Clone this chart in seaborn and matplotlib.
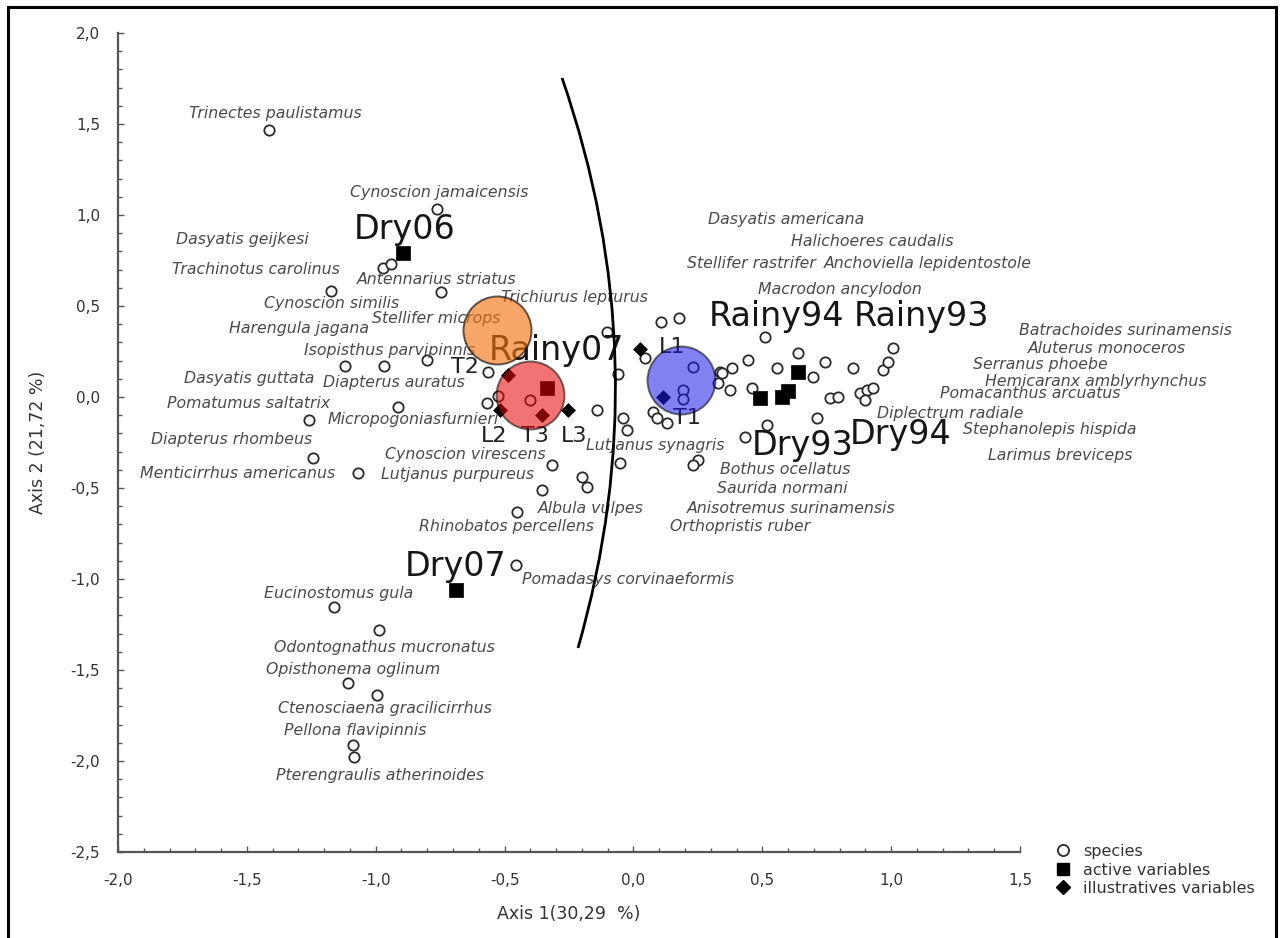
import numpy as np
import pandas as pd
import matplotlib
matplotlib.use("Agg")
import matplotlib.pyplot as plt
from matplotlib.lines import Line2D
from matplotlib.patches import Rectangle, PathPatch
from matplotlib.path import Path
from matplotlib.ticker import MultipleLocator, FuncFormatter
import seaborn as sns

# ---- species scores (CA axis 1 / axis 2) ----
species_x = [-1.414, -0.762, -0.972, -0.941, -0.747, -1.173, -1.119, -0.968, -0.801, -0.564,
             -0.568, -0.913, -1.259, -1.243, -1.069, -0.401, -0.102, 0.107, 0.177, -0.060,
             -0.141, -0.040, -0.025, 0.076, 0.130, 0.092, -0.052, -0.316, -0.199, -0.180,
             -0.355, -0.452, 0.231, 0.192, 0.192, 0.336, 0.383, 0.328, 0.375, 0.445,
             0.557, 0.638, 0.743, 0.697, 0.510, 0.852, 0.968, 0.988, 1.007, 0.343,
             0.460, 0.763, 0.794, 0.879, 0.906, 0.929, 0.898, 0.712, 0.518, 0.433,
             0.251, 0.231, -0.456, -1.162, -0.987, -1.107, -0.995, -1.088, -1.085, -0.525,
             0.045]
species_y = [1.467, 1.033, 0.709, 0.731, 0.577, 0.582, 0.170, 0.170, 0.203, 0.137,
             -0.033, -0.055, -0.126, -0.335, -0.418, -0.016, 0.357, 0.412, 0.434, 0.126,
             -0.071, -0.115, -0.181, -0.082, -0.143, -0.115, -0.363, -0.374, -0.440, -0.495,
             -0.511, -0.632, 0.165, 0.038, -0.011, 0.137, 0.159, 0.077, 0.038, 0.203,
             0.159, 0.242, 0.192, 0.110, 0.330, 0.159, 0.148, 0.192, 0.269, 0.132,
             0.049, -0.005, 0.000, 0.022, 0.038, 0.049, -0.016, -0.115, -0.154, -0.220,
             -0.346, -0.374, -0.923, -1.154, -1.280, -1.571, -1.637, -1.912, -1.978, 0.005,
             0.214]

# ---- species names and where their names sit ----
species_names = [
    "Trinectes paulistamus", "Cynoscion jamaicensis", "Dasyatis geijkesi",
    "Trachinotus carolinus", "Antennarius striatus", "Trichiurus lepturus",
    "Cynoscion similis", "Stellifer microps", "Harengula jagana",
    "Isopisthus parvipinnis", "Dasyatis guttata", "Diapterus auratus",
    "Pomatumus saltatrix", "Micropogoniasfurnieri", "Diapterus rhombeus",
    "Menticirrhus americanus", "Cynoscion virescens", "Lutjanus purpureus",
    "Albula vulpes", "Rhinobatos percellens", "Lutjanus synagris",
    "Dasyatis americana", "Halichoeres caudalis", "Stellifer rastrifer",
    "Anchoviella lepidentostole", "Macrodon ancylodon", "Batrachoides surinamensis",
    "Aluterus monoceros", "Serranus phoebe", "Hemicaranx amblyrhynchus",
    "Pomacanthus arcuatus", "Diplectrum radiale", "Stephanolepis hispida",
    "Larimus breviceps", "Bothus ocellatus", "Saurida normani",
    "Anisotremus surinamensis", "Orthopristis ruber", "Pomadasys corvinaeformis",
    "Eucinostomus gula", "Odontognathus mucronatus", "Opisthonema oglinum",
    "Ctenosciaena gracilicirrhus", "Pellona flavipinnis", "Pterengraulis atherinoides",
]
species_label_x = [-1.391, -0.754, -1.519, -1.465, -0.762, -0.227, -1.173, -0.766, -1.298,
                   -0.945, -1.492, -0.929, -1.492, -0.855, -1.561, -1.534, -0.653, -0.681,
                   -0.165, -0.491, 0.084, 0.592, 0.926, 0.456, 1.143, 0.802, 1.911, 1.838,
                   1.578, 1.795, 1.539, 1.229, 1.617, 1.655, 0.588, 0.577, 0.612, 0.414,
                   -0.021, -1.142, -0.967, -1.088, -0.964, -1.080, -0.983]
species_label_y = [1.555, 1.121, 0.863, 0.703, 0.648, 0.549, 0.516, 0.434, 0.374,
                   0.258, 0.104, 0.082, -0.033, -0.126, -0.236, -0.423, -0.314, -0.426,
                   -0.610, -0.709, -0.269, 0.978, 0.857, 0.731, 0.731, 0.588, 0.363, 0.269,
                   0.176, 0.087, 0.017, -0.088, -0.176, -0.319, -0.401, -0.505, -0.615, -0.714,
                   -1.005, -1.082, -1.379, -1.495, -1.714, -1.835, -2.082]

# ---- active variables (sampling periods) ----
active_names = ["Dry06", "Dry07", "Rainy07", "Dry93", "Dry94", "Rainy94", "Rainy93"]
active_x = [-0.894, -0.688, -0.335, 0.491, 0.576, 0.600, 0.638]
active_y = [0.791, -1.060, 0.049, -0.005, 0.000, 0.033, 0.137]
active_label_x = [-0.886, -0.688, -0.297, 0.655, 1.036, 0.556, 1.116]
active_label_y = [0.923, -0.929, 0.258, -0.269, -0.204, 0.445, 0.445]

# ---- illustrative variables (sites) ----
illus_names = ["L1", "T1", "T2", "L2", "T3", "L3"]
illus_x = [0.026, 0.115, -0.487, -0.518, -0.355, -0.254]
illus_y = [0.264, 0.000, 0.121, -0.071, -0.099, -0.071]
illus_label_x = [0.150, 0.208, -0.653, -0.540, -0.382, -0.231]
illus_label_y = [0.275, -0.115, 0.165, -0.213, -0.213, -0.213]

# ---- highlighted groups ----
group_x = [-0.529, -0.401, 0.185]
group_y = [0.368, 0.011, 0.093]
group_colors = ["#f57310", "#e80000", "#1a1ae6"]
group_alpha = [0.63, 0.55, 0.55]

# ---- boundary arc separating the two periods (start, control, end) ----
arc_x = [-0.277, 0.104, -0.215]
arc_y = [1.753, 0.193, -1.379]

sns.set_style("ticks")
plt.rcParams["font.family"] = ["DejaVu Sans"]
plt.rcParams["axes.unicode_minus"] = False

W, H = 1281, 938
fig = plt.figure(figsize=(W / 100, H / 100), dpi=100)
ax = fig.add_axes([118 / W, 1 - 852 / H, (1020 - 118) / W, (852 - 33) / H])

species_df = pd.DataFrame({"x": species_x, "y": species_y})
active_df = pd.DataFrame({"x": active_x, "y": active_y, "name": active_names})
illus_df = pd.DataFrame({"x": illus_x, "y": illus_y, "name": illus_names})
group_df = pd.DataFrame({"x": group_x, "y": group_y, "color": group_colors,
                         "alpha": group_alpha})

sns.scatterplot(data=species_df, x="x", y="y", ax=ax, marker="o", s=55,
                facecolor="white", edgecolor="#2a2a2a", linewidth=1.3, zorder=3,
                legend=False)
sns.scatterplot(data=active_df, x="x", y="y", ax=ax, marker="s", s=95,
                color="black", edgecolor="black", linewidth=0.5, zorder=4, legend=False)
sns.scatterplot(data=illus_df, x="x", y="y", ax=ax, marker="D", s=50,
                color="black", edgecolor="black", linewidth=0.5, zorder=4, legend=False)

arc = Path(list(zip(arc_x, arc_y)), [Path.MOVETO, Path.CURVE3, Path.CURVE3])
ax.add_patch(PathPatch(arc, facecolor="none", edgecolor="black", linewidth=2.0, zorder=5))

# species names
for name, lx, ly in zip(species_names, species_label_x, species_label_y):
    ax.text(lx, ly, name, fontsize=11.3, style="italic", color="#4a4a4a",
            ha="center", va="center", zorder=3)

# period names
for name, lx, ly in zip(active_names, active_label_x, active_label_y):
    ax.text(lx, ly, name, fontsize=24, color="#161616", ha="center", va="center", zorder=3)

# site names
for name, lx, ly in zip(illus_names, illus_label_x, illus_label_y):
    ax.text(lx, ly, name, fontsize=16, color="#222222", ha="center", va="center", zorder=3)

# translucent group discs drawn over the points and names
for _, row in group_df.iterrows():
    ax.scatter(row["x"], row["y"], s=2400, color=row["color"], alpha=row["alpha"],
               edgecolor="black", linewidth=1.4, zorder=10)

ax.set_xlim(-2.0, 1.5)
ax.set_ylim(-2.5, 2.0)

comma = FuncFormatter(lambda v, p: f"{0.0 if abs(v) < 1e-9 else v:.1f}".replace(".", ","))
for axis in (ax.xaxis, ax.yaxis):
    axis.set_major_locator(MultipleLocator(0.5))
    axis.set_minor_locator(MultipleLocator(0.1))
    axis.set_major_formatter(comma)

ax.tick_params(which="both", direction="in", color="#555555", width=1.0)
ax.tick_params(which="major", length=4, labelsize=11, labelcolor="#333333")
ax.tick_params(which="minor", length=3)
ax.tick_params(axis="x", which="major", pad=15)
ax.tick_params(axis="y", which="major", pad=13)

for side in ("top", "right"):
    ax.spines[side].set_visible(False)
for side in ("left", "bottom"):
    ax.spines[side].set_color("#555555")
    ax.spines[side].set_linewidth(1.6)

ax.set_xlabel("Axis 1(30,29  %)", fontsize=12.5, color="#333333", labelpad=12)
ax.set_ylabel("Axis 2 (21,72 %)", fontsize=12.5, color="#333333", labelpad=17)

handles = [
    Line2D([], [], linestyle="none", marker="o", markersize=8, markerfacecolor="white",
           markeredgecolor="#2a2a2a", markeredgewidth=1.3),
    Line2D([], [], linestyle="none", marker="s", markersize=9, color="black"),
    Line2D([], [], linestyle="none", marker="D", markersize=7, color="black"),
]
fig.legend(handles, ["species", "active variables", "illustratives variables"],
           loc="upper left", bbox_to_anchor=(1055 / W, 1 - 844 / H), frameon=False,
           fontsize=11.5, labelcolor="#333333", handlelength=1.0, handletextpad=0.75,
           labelspacing=0.22, borderpad=0, borderaxespad=0)

fig.patches.append(Rectangle((8 / W, -0.05), (1276 - 8) / W, 1.05 - 7 / H,
                             transform=fig.transFigure, fill=False,
                             edgecolor="black", linewidth=2.2))

fig.savefig("out.png", dpi=100, facecolor="white")
